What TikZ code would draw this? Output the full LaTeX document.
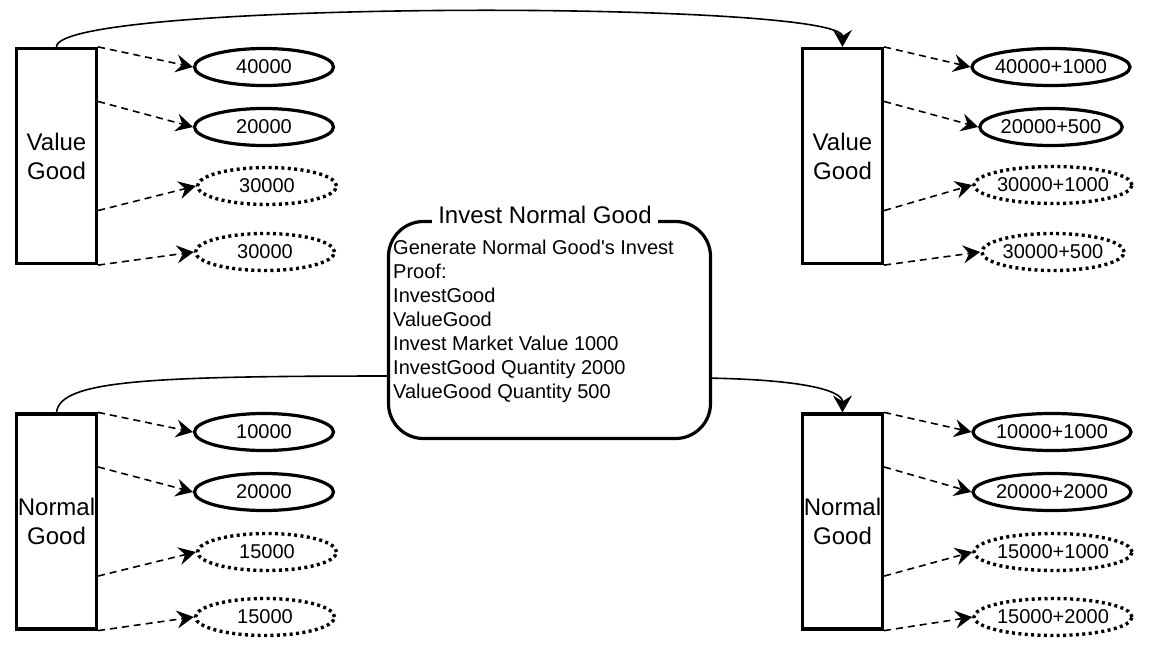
\documentclass[tikz,border=0pt]{standalone}
\usepackage{fontspec}
\setmainfont{Liberation Sans}
\usetikzlibrary{arrows.meta,calc,shapes.geometric}
\begin{document}
\begin{tikzpicture}[x=1pt,y=-1pt,
  goodbox/.style={draw, line width=3.2pt, minimum width=80pt, minimum height=215pt, inner sep=0pt, align=center, font=\fontsize{24}{29}\selectfont},
  valsolid/.style={ellipse, draw, line width=3.2pt, minimum width=139pt, minimum height=37pt, inner sep=0pt, font=\fontsize{20}{24}\selectfont},
  valdotted/.style={valsolid, line width=3.4pt, dash pattern=on 3pt off 3.4pt},
  feed/.style={-{Stealth[length=17pt,width=18pt,inset=6pt]}, dash pattern=on 7pt off 5pt, line width=1.6pt},
  flow/.style={-{Stealth[length=17pt,width=19pt,inset=6pt]}, line width=1.6pt},
  investbox/.style={draw, line width=3.2pt, rounded corners=35pt, fill=white, minimum width=322pt, minimum height=217pt, inner sep=0pt},
  boxtext/.style={font=\fontsize{20}{24}\selectfont, align=left, inner sep=0pt},
  titlelbl/.style={font=\fontsize{24}{29}\selectfont, fill=white, inner xsep=6.5pt, inner ysep=1pt}
]
\useasboundingbox (0,0) rectangle (1154,658);

% rectangles
\node[goodbox] (vg1) at (56.5,156) {Value\\Good};
\node[goodbox] (vg2) at (842.5,156) {Value\\Good};
\node[goodbox] (ng1) at (56.5,521.5) {Normal\\Good};
\node[goodbox] (ng2) at (842.5,521.5) {Normal\\Good};

% top-left values
\node[valsolid]  (a1) at (264,67)  {40000};
\node[valsolid]  (a2) at (264,127) {20000};
\node[valdotted] (a3) at (267,186) {30000};
\node[valdotted] (a4) at (265,252) {30000};
% top-right values
\node[valsolid]  (b1) at (1051,67)  {40000+1000};
\node[valsolid]  (b2) at (1051,127) {20000+500};
\node[valdotted] (b3) at (1053,185) {30000+1000};
\node[valdotted] (b4) at (1053,252) {30000+500};
% bottom-left values
\node[valsolid]  (c1) at (264,432) {10000};
\node[valsolid]  (c2) at (264,492) {20000};
\node[valdotted] (c3) at (267,552) {15000};
\node[valdotted] (c4) at (265,617) {15000};
% bottom-right values
\node[valsolid]  (d1) at (1052,432) {10000+1000};
\node[valsolid]  (d2) at (1052,492) {20000+2000};
\node[valdotted] (d3) at (1053,552) {15000+1000};
\node[valdotted] (d4) at (1053,617) {15000+2000};

% dashed feeds
\foreach \r/\e in {vg1/a, vg2/b, ng1/c, ng2/d}{
  \draw[feed] (\r.north east) -- (\e1.west);
  \draw[feed] ($(\r.north east)!0.25!(\r.south east)$) -- (\e2.west);
  \draw[feed] ($(\r.north east)!0.75!(\r.south east)$) -- (\e3.west);
  \draw[feed] (\r.south east) -- (\e4.west);
}

% curved flows
\draw[flow] (vg1.north) .. controls (56,0) and (842.5,0) .. (vg2.north);
\draw[flow] (ng1.north) .. controls (60,380) and (150,376) .. (400,376) -- (700,378) .. controls (800,379) and (842.5,390) .. (ng2.north);

% invest box
\node[investbox] (inv) at (549.5,330) {};
\node[titlelbl] (invtitle) at (545,215) {Invest Normal Good};
\node[boxtext, anchor=north west] (invtxt) at (393,239.5) {Generate Normal Good\textquotesingle s Invest\\Proof:\\InvestGood\\ValueGood\\Invest Market Value 1000\\InvestGood Quantity 2000\\ValueGood Quantity 500};
\end{tikzpicture}
\end{document}
